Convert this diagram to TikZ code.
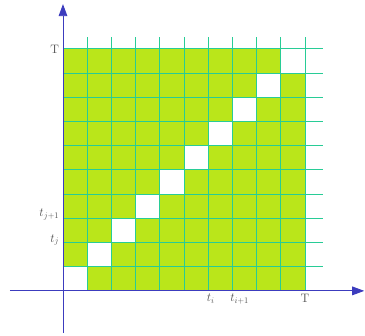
\documentclass[tikz,border=0pt]{standalone}
\usepackage{tikz}
\usetikzlibrary{arrows.meta,positioning}
\definecolor{cellgreen}{RGB}{186,230,26}
\definecolor{gridteal}{RGB}{40,204,150}
\definecolor{axisblue}{RGB}{60,60,190}
\definecolor{labelgray}{RGB}{80,80,80}

\begin{document}
\begin{tikzpicture}[
  gridline/.style={draw=gridteal, line width=1.1pt},
  axis/.style={draw=axisblue, line width=1.1pt, -{Triangle[length=0.5cm,width=0.36cm]}},
  tick/.style={text=labelgray, font=\Large, inner sep=1pt}]
  \useasboundingbox (-2.603,-1.86) rectangle (12.48,12.02);

  % green cells, the diagonal stays white
  \foreach \i in {0,...,9}
    \foreach \j in {0,...,9}
      {\ifnum\i=\j\else \fill[cellgreen] (\i,\j) rectangle ++(1,1);\fi}

  % grid
  \foreach \k in {1,...,10} \draw[gridline] (\k,0) -- (\k,10.5);
  \foreach \k in {1,...,10} \draw[gridline] (0,\k) -- (10.75,\k);

  % axes
  \coordinate (xstart) at (-2.2,0);
  \coordinate (xend) at (12.45,0);
  \coordinate (ystart) at (0,-1.74);
  \coordinate (yend) at (0,11.85);
  \draw[axis] (xstart) -- (xend);
  \draw[axis] (ystart) -- (yend);

  % labels on the vertical axis
  \node[tick, anchor=east] (Ty) at (-0.12,10) {$\mathrm{T}$};
  \node[tick, anchor=east] (tj1) at (-0.12,3.15) {$t_{j+1}$};
  \node[tick, anchor=east] (tj) at (-0.12,2.1) {$t_j$};

  % labels on the horizontal axis
  \node[tick, anchor=north] (ti) at (6.1,-0.1) {$t_i$};
  \node[tick, anchor=north] (ti1) at (7.3,-0.1) {$t_{i+1}$};
  \node[tick, anchor=north] (Tx) at (10,-0.1) {$\mathrm{T}$};
\end{tikzpicture}
\end{document}
